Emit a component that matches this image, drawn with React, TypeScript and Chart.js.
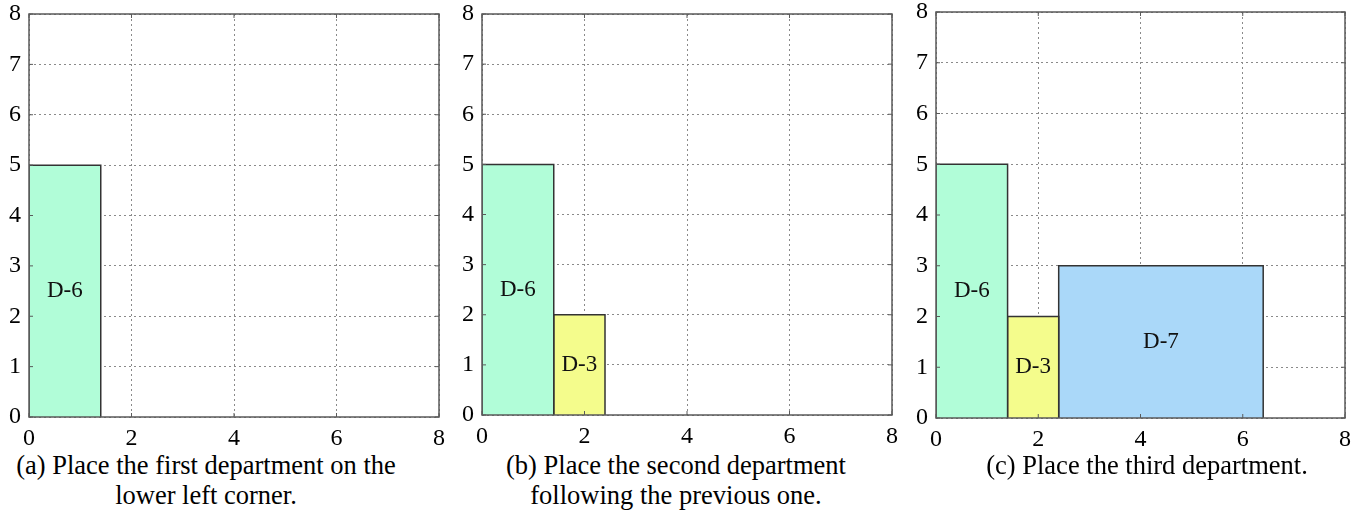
import React, { useEffect, useRef } from "react";
import { Chart, registerables } from "chart.js";

Chart.register(...registerables);

// ---- data ----
const departments = ["D-6", "D-3", "D-7"];
const deptX = [0, 1.4, 2.4];
const deptWidth = [1.4, 1.0, 4.0];
const deptHeight = [5, 2, 3];
const deptColors = ["#b1fdd8", "#f4fc8c", "#aad8f9"];
const panelDeptCounts = [1, 2, 3];
const xAxisMax = 8;
const xTickStep = 2;
const yAxisMax = 8;
const yTickStep = 1;
const captions = [
  ["(a) Place the first department on the", "lower left corner."],
  ["(b) Place the second department", "following the previous one."],
  ["(c) Place the third department."],
];

// ---- layout (pixels) ----
const CANVAS_W = 455;
const CANVAS_H = 450;
const panelLeft = [0, 455, 905];
const panelArea = [
  { left: 29, right: 439, top: 14, bottom: 417 },
  { left: 27, right: 437, top: 14, bottom: 415 },
  { left: 31, right: 440, top: 12, bottom: 418 },
];
const captionCenter = [206, 676, 1147];

const SERIF = '"Liberation Serif", "Times New Roman", Times, serif';

const framePlugin = {
  id: "frame",
  afterDraw(chart: any) {
    const { ctx, chartArea: a, scales } = chart;
    ctx.save();
    ctx.strokeStyle = "#5a5a5a";
    ctx.lineWidth = 1.5;
    ctx.strokeRect(a.left, a.top, a.right - a.left, a.bottom - a.top);
    ctx.lineWidth = 1;
    ctx.beginPath();
    scales.x.ticks.forEach((t: any) => {
      const px = scales.x.getPixelForValue(t.value);
      ctx.moveTo(px, a.bottom);
      ctx.lineTo(px, a.bottom - 4);
      ctx.moveTo(px, a.top);
      ctx.lineTo(px, a.top + 4);
    });
    scales.y.ticks.forEach((t: any) => {
      const py = scales.y.getPixelForValue(t.value);
      ctx.moveTo(a.left, py);
      ctx.lineTo(a.left + 4, py);
      ctx.moveTo(a.right, py);
      ctx.lineTo(a.right - 4, py);
    });
    ctx.stroke();
    ctx.restore();
  },
};

const labelPlugin = {
  id: "deptLabels",
  afterDatasetsDraw(chart: any) {
    const { ctx, scales } = chart;
    ctx.save();
    ctx.fillStyle = "#111";
    ctx.font = `23px ${SERIF}`;
    ctx.textAlign = "center";
    ctx.textBaseline = "middle";
    chart.data.datasets.forEach((ds: any, i: number) => {
      const cx = scales.x.getPixelForValue(deptX[i] + deptWidth[i] / 2);
      const cy = scales.y.getPixelForValue(deptHeight[i] / 2);
      ctx.fillText(ds.label, cx, cy);
    });
    ctx.restore();
  },
};

function Panel({ index }: { index: number }) {
  const ref = useRef<HTMLCanvasElement | null>(null);
  useEffect(() => {
    if (!ref.current) return;
    const area = panelArea[index];
    const n = panelDeptCounts[index];
    const datasets = departments.slice(0, n).map((name, i) => {
      const x0 = deptX[i];
      const x1 = deptX[i] + deptWidth[i];
      const h = deptHeight[i];
      return {
        label: name,
        data: [
          { x: x0, y: 0 },
          { x: x0, y: h },
          { x: x1, y: h },
          { x: x1, y: 0 },
        ],
        borderColor: "#333333",
        borderWidth: 1.5,
        backgroundColor: deptColors[i],
        fill: "origin",
        pointRadius: 0,
        tension: 0,
      };
    });
    const tickFont = { family: SERIF, size: 24 };
    const chart = new Chart(ref.current, {
      type: "line",
      data: { datasets },
      options: {
        animation: false,
        responsive: false,
        devicePixelRatio: 1,
        layout: {
          padding: { left: 0, top: area.top, right: CANVAS_W - area.right, bottom: 0 },
        },
        plugins: { legend: { display: false }, tooltip: { enabled: false } },
        scales: {
          x: {
            type: "linear",
            min: 0,
            max: xAxisMax,
            ticks: { stepSize: xTickStep, font: tickFont, color: "#000", padding: 7 },
            grid: { color: "#8a8a8a", lineWidth: 1, drawTicks: false },
            border: { display: false, dash: [2, 3] },
            afterFit: (s: any) => {
              s.height = CANVAS_H - area.bottom;
              s.paddingLeft = 0;
              s.paddingRight = 0;
            },
          },
          y: {
            type: "linear",
            min: 0,
            max: yAxisMax,
            ticks: { stepSize: yTickStep, font: tickFont, color: "#000", padding: 8 },
            grid: { color: "#8a8a8a", lineWidth: 1, drawTicks: false },
            border: { display: false, dash: [2, 3] },
            afterFit: (s: any) => {
              s.width = area.left;
              s.paddingTop = 0;
              s.paddingBottom = 0;
            },
          },
        },
      } as any,
      plugins: [framePlugin, labelPlugin],
    });
    return () => chart.destroy();
  }, [index]);
  return (
    <div
      style={{
        position: "absolute",
        left: panelLeft[index],
        top: 0,
        width: CANVAS_W,
        height: CANVAS_H,
      }}
    >
      <canvas ref={ref} width={CANVAS_W} height={CANVAS_H} style={{ width: CANVAS_W, height: CANVAS_H }} />
    </div>
  );
}

export default function App() {
  return (
    <div
      style={{
        position: "absolute",
        left: 0,
        top: 0,
        width: 1365,
        height: 515,
        background: "#fff",
        overflow: "hidden",
      }}
    >
      {[0, 1, 2].map((i) => (
        <Panel key={i} index={i} />
      ))}
      {captions.map((lines, i) => (
        <div
          key={"c" + i}
          style={{
            position: "absolute",
            left: captionCenter[i] - 250,
            top: 450,
            width: 500,
            textAlign: "center",
            fontFamily: SERIF,
            fontSize: 26.5,
            lineHeight: "30px",
            color: "#000",
          }}
        >
          {lines.map((l, j) => (
            <div key={j}>{l}</div>
          ))}
        </div>
      ))}
    </div>
  );
}
